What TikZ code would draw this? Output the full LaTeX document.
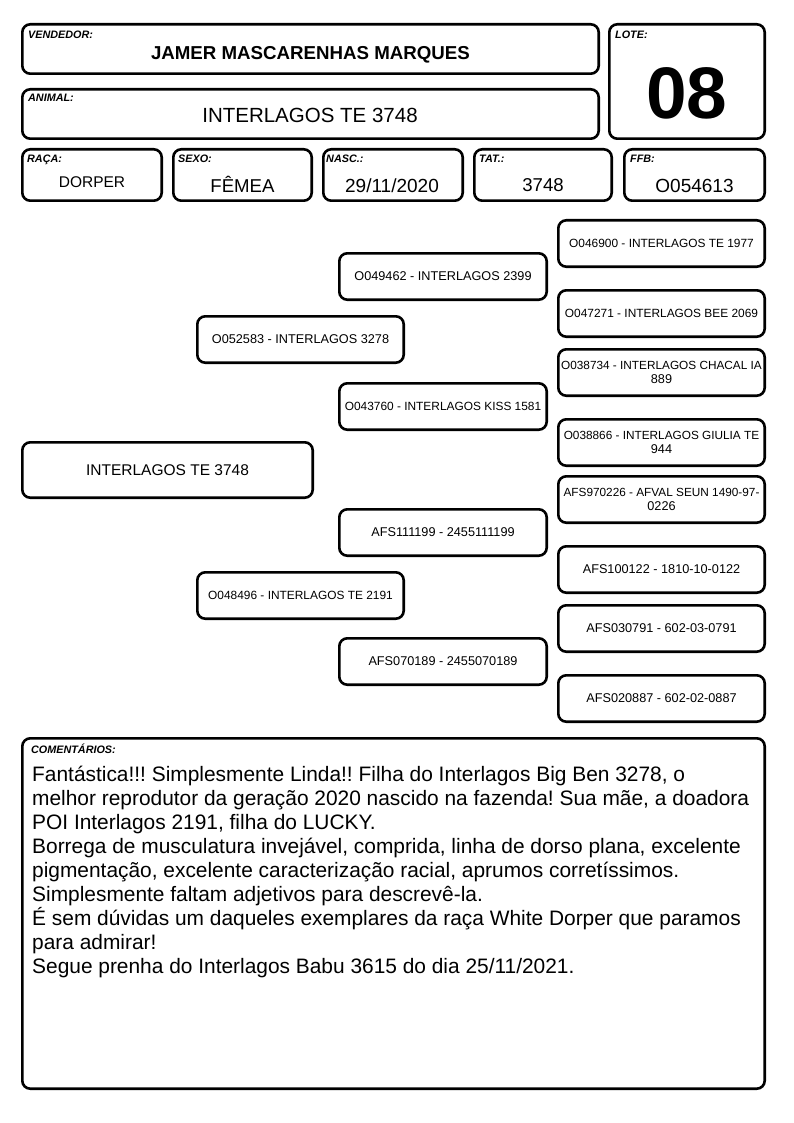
\documentclass[tikz,border=0pt]{standalone}
\usepackage{fontspec}
\setmainfont{Liberation Sans}
\frenchspacing
\newcommand\fs[1]{\fontsize{#1}{13.7}\selectfont}
\newcommand\mybox[6]{\node[box,minimum width={#4-#2-2.6},minimum height={#5-#3-2.6}] (#1) at ({(#2+#4)/2},{(#3+#5)/2}) {#6};}
\begin{document}
\begin{tikzpicture}[x=1pt,y=-1pt,
  box/.style={draw=black,line width=2.6pt,rounded corners=8pt,fill=white,inner sep=0pt,align=center,font=\fontsize{12.7}{14.6}\selectfont},
  lbl/.style={anchor=base west,inner sep=0pt,font=\fontsize{10.8}{12}\selectfont\bfseries\itshape},
  val/.style={anchor=base,inner sep=0pt}]
\useasboundingbox[fill=white] (0,0) rectangle (794,1123);
% header boxes
\mybox{vend}{21}{23}{600}{75}{}
\mybox{lote}{608}{23}{766}{140}{}
\mybox{anim}{21}{88}{600}{140}{}
\mybox{raca}{21}{148}{163}{202}{}
\mybox{sexo}{172}{148}{313}{202}{}
\mybox{nasc}{322}{148}{464}{202}{}
\mybox{tat}{473}{148}{613}{202}{}
\mybox{ffb}{623}{148}{766}{202}{}
\node[lbl] (vendl) at (28,39) {VENDEDOR:};
\node[val,font=\fontsize{18.7}{21}\selectfont\bfseries] (vendv) at (310.5,60) {JAMER MASCARENHAS MARQUES};
\node[lbl] (animl) at (28,102) {ANIMAL:};
\node[val,font=\fontsize{20.5}{23}\selectfont] (animv) at (310,123) {INTERLAGOS TE 3748};
\node[lbl] (lotel) at (615,39) {LOTE:};
\node[val,font=\fontsize{73}{80}\selectfont\bfseries] (lotev) at (687,119) {08};
\node[lbl] (racal) at (27,163) {RAÇA:};
\node[val,font=\fontsize{15.5}{18}\selectfont] (racav) at (92,188) {DORPER};
\node[lbl] (sexol) at (178,163) {SEXO:};
\node[val,font=\fontsize{18.6}{21}\selectfont] (sexov) at (242.5,193) {FÊMEA};
\node[lbl] (nascl) at (326,163) {NASC.:};
\node[val,font=\fontsize{19}{21}\selectfont] (nascv) at (392,193) {29/11/2020};
\node[lbl] (tatl) at (479,163) {TAT.:};
\node[val,font=\fontsize{18.6}{21}\selectfont] (tatv) at (543,192) {3748};
\node[lbl] (ffbl) at (630,163) {FFB:};
\node[val,font=\fontsize{19}{21}\selectfont] (ffbv) at (694.5,193) {O054613};
% pedigree
\mybox{subj}{21}{441}{314}{499}{\fs{15.5}INTERLAGOS TE 3748}
\mybox{sire}{196}{315}{405}{364}{O052583 - INTERLAGOS 3278}
\mybox{dam}{196}{571}{405}{620}{\fs{11.9}O048496 - INTERLAGOS TE 2191}
\mybox{gpa}{338}{252}{548}{301}{O049462 - INTERLAGOS 2399}
\mybox{gpb}{338}{382}{548}{431}{\fs{11.9}O043760 - INTERLAGOS KISS 1581}
\mybox{gpc}{338}{508}{548}{557}{AFS111199 - 2455111199}
\mybox{gpd}{338}{637}{548}{686}{AFS070189 - 2455070189}
\mybox{ggpa}{557}{219}{766}{268}{\fs{11.9}O046900 - INTERLAGOS TE 1977}
\mybox{ggpb}{557}{289}{766}{338}{\fs{11.9}O047271 - INTERLAGOS BEE 2069}
\mybox{ggpc}{557}{348}{766}{397}{\fs{11.8}O038734 - INTERLAGOS CHACAL IA\\889}
\mybox{ggpd}{557}{418}{766}{467}{\fs{11.8}O038866 - INTERLAGOS GIULIA TE\\944}
\mybox{ggpe}{557}{475}{766}{524}{\fs{11.8}AFS970226 - AFVAL SEUN 1490-97-\\0226}
\mybox{ggpf}{557}{545}{766}{594}{AFS100122 - 1810-10-0122}
\mybox{ggpg}{557}{604}{766}{653}{AFS030791 - 602-03-0791}
\mybox{ggph}{557}{674}{766}{723}{AFS020887 - 602-02-0887}
% comments
\mybox{comm}{21}{737}{766}{1090}{}
\node[lbl] (comml) at (31,753) {COMENTÁRIOS:};
\node[anchor=north west,inner sep=0pt,align=left,font=\fontsize{20.9}{24}\selectfont] (commv) at (32,766) {Fantástica!!! Simplesmente Linda!! Filha do Interlagos Big Ben 3278, o\\
melhor reprodutor da geração 2020 nascido na fazenda! Sua mãe, a doadora\\
POI Interlagos 2191, filha do LUCKY.\\
Borrega de musculatura invejável, comprida, linha de dorso plana, excelente\\
pigmentação, excelente caracterização racial, aprumos corretíssimos.\\
Simplesmente faltam adjetivos para descrevê-la.\\
É sem dúvidas um daqueles exemplares da raça White Dorper que paramos\\
para admirar!\\
Segue prenha do Interlagos Babu 3615 do dia 25/11/2021.};
\end{tikzpicture}
\end{document}
